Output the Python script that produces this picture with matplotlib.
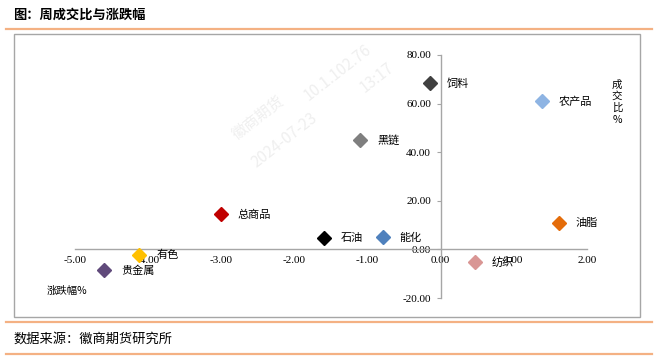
import matplotlib
matplotlib.use("Agg")
import matplotlib.pyplot as plt
from matplotlib.patches import Rectangle
from matplotlib.lines import Line2D

plt.rcParams['font.family'] = ['Liberation Serif', 'Noto Sans CJK SC', 'DejaVu Sans']

# 数据：涨跌幅(%) 与 成交比(%)
names = ['饲料', '农产品', '黑链', '总商品', '石油', '能化', '有色', '贵金属', '纺织', '油脂']
change = [-0.14, 1.38, -1.10, -3.00, -1.59, -0.79, -4.12, -4.60, 0.47, 1.62]
ratio = [68.3, 60.9, 44.9, 14.4, 4.5, 4.9, -2.1, -8.6, -5.3, 10.7]
colors = ['#404040', '#8EB4E3', '#7F7F7F', '#C00000', '#000000',
          '#4F81BD', '#FFC000', '#604A7B', '#D99694', '#E46C0A']

W, H = 655, 357
fig = plt.figure(figsize=(W / 100, H / 100), dpi=100)


def fx(px):
    return px / W


def fy(py):
    return 1 - py / H


cjk = ['Noto Sans CJK SC', 'DejaVu Sans']
orange = '#F4B183'

# 标题和来源
fig.text(fx(13), fy(15), '图：周成交比与涨跌幅', family=cjk, fontsize=9.5,
         fontweight='bold', va='center', ha='left')
fig.text(fx(13), fy(339), '数据来源：徽商期货研究所', family=cjk, fontsize=9.5,
         va='center', ha='left')
for yy in (29, 322, 354):
    fig.add_artist(Line2D([fx(6), fx(652)], [fy(yy), fy(yy)], color=orange, lw=1.6))
fig.add_artist(Rectangle((fx(14), fy(317)), fx(640 - 14), (317 - 34) / H,
                         fill=False, edgecolor='#A6A6A6', lw=1.0))

# 水印
wm = dict(family=cjk, fontsize=11, color='#EFEFEF', rotation=38,
          ha='center', va='center', zorder=0)
fig.text(fx(258), fy(117), '徽商期货', **wm)
fig.text(fx(338), fy(73), '10.1.102.76', **wm)
fig.text(fx(377), fy(78), '13:17', **wm)
fig.text(fx(285), fy(140), '2024-07-23', **wm)

ax = fig.add_axes([fx(75), fy(298), fx(587 - 75), (298 - 55) / H])
ax.patch.set_alpha(0)
ax.set_xlim(-5, 2)
ax.set_ylim(-20, 80)
for s in ('top', 'right'):
    ax.spines[s].set_visible(False)
ax.spines['left'].set_position(('data', 0))
ax.spines['bottom'].set_position(('data', 0))
for s in ('left', 'bottom'):
    ax.spines[s].set_color('#A6A6A6')
    ax.spines[s].set_linewidth(1.0)

ax.set_xticks([-5, -4, -3, -2, -1, 0, 1, 2])
ax.set_yticks([-20, 0, 20, 40, 60, 80])
ax.xaxis.set_major_formatter(lambda v, p: f'{v:.2f}')
ax.yaxis.set_major_formatter(lambda v, p: f'{v:.2f}')
ax.tick_params(axis='x', length=0, labelsize=8, pad=5)
ax.tick_params(axis='y', length=3, color='#A6A6A6', direction='out', labelsize=8, pad=4)

for n, x, y, c in zip(names, change, ratio, colors):
    ax.plot(x, y, marker='D', ms=7.5, color=c, ls='none', zorder=3, clip_on=False)
    ax.annotate(n, (x, y), xytext=(12, 0), textcoords='offset points',
                family=cjk, fontsize=8, va='center', ha='left', zorder=4)

fig.text(fx(617), fy(102), '成\n交\n比\n%', family=cjk, fontsize=7.5,
         ha='center', va='center', linespacing=1.2)
fig.text(fx(47), fy(291), '涨跌幅%', family=cjk, fontsize=7.5, ha='left', va='center')

fig.savefig('out.png', dpi=100)
